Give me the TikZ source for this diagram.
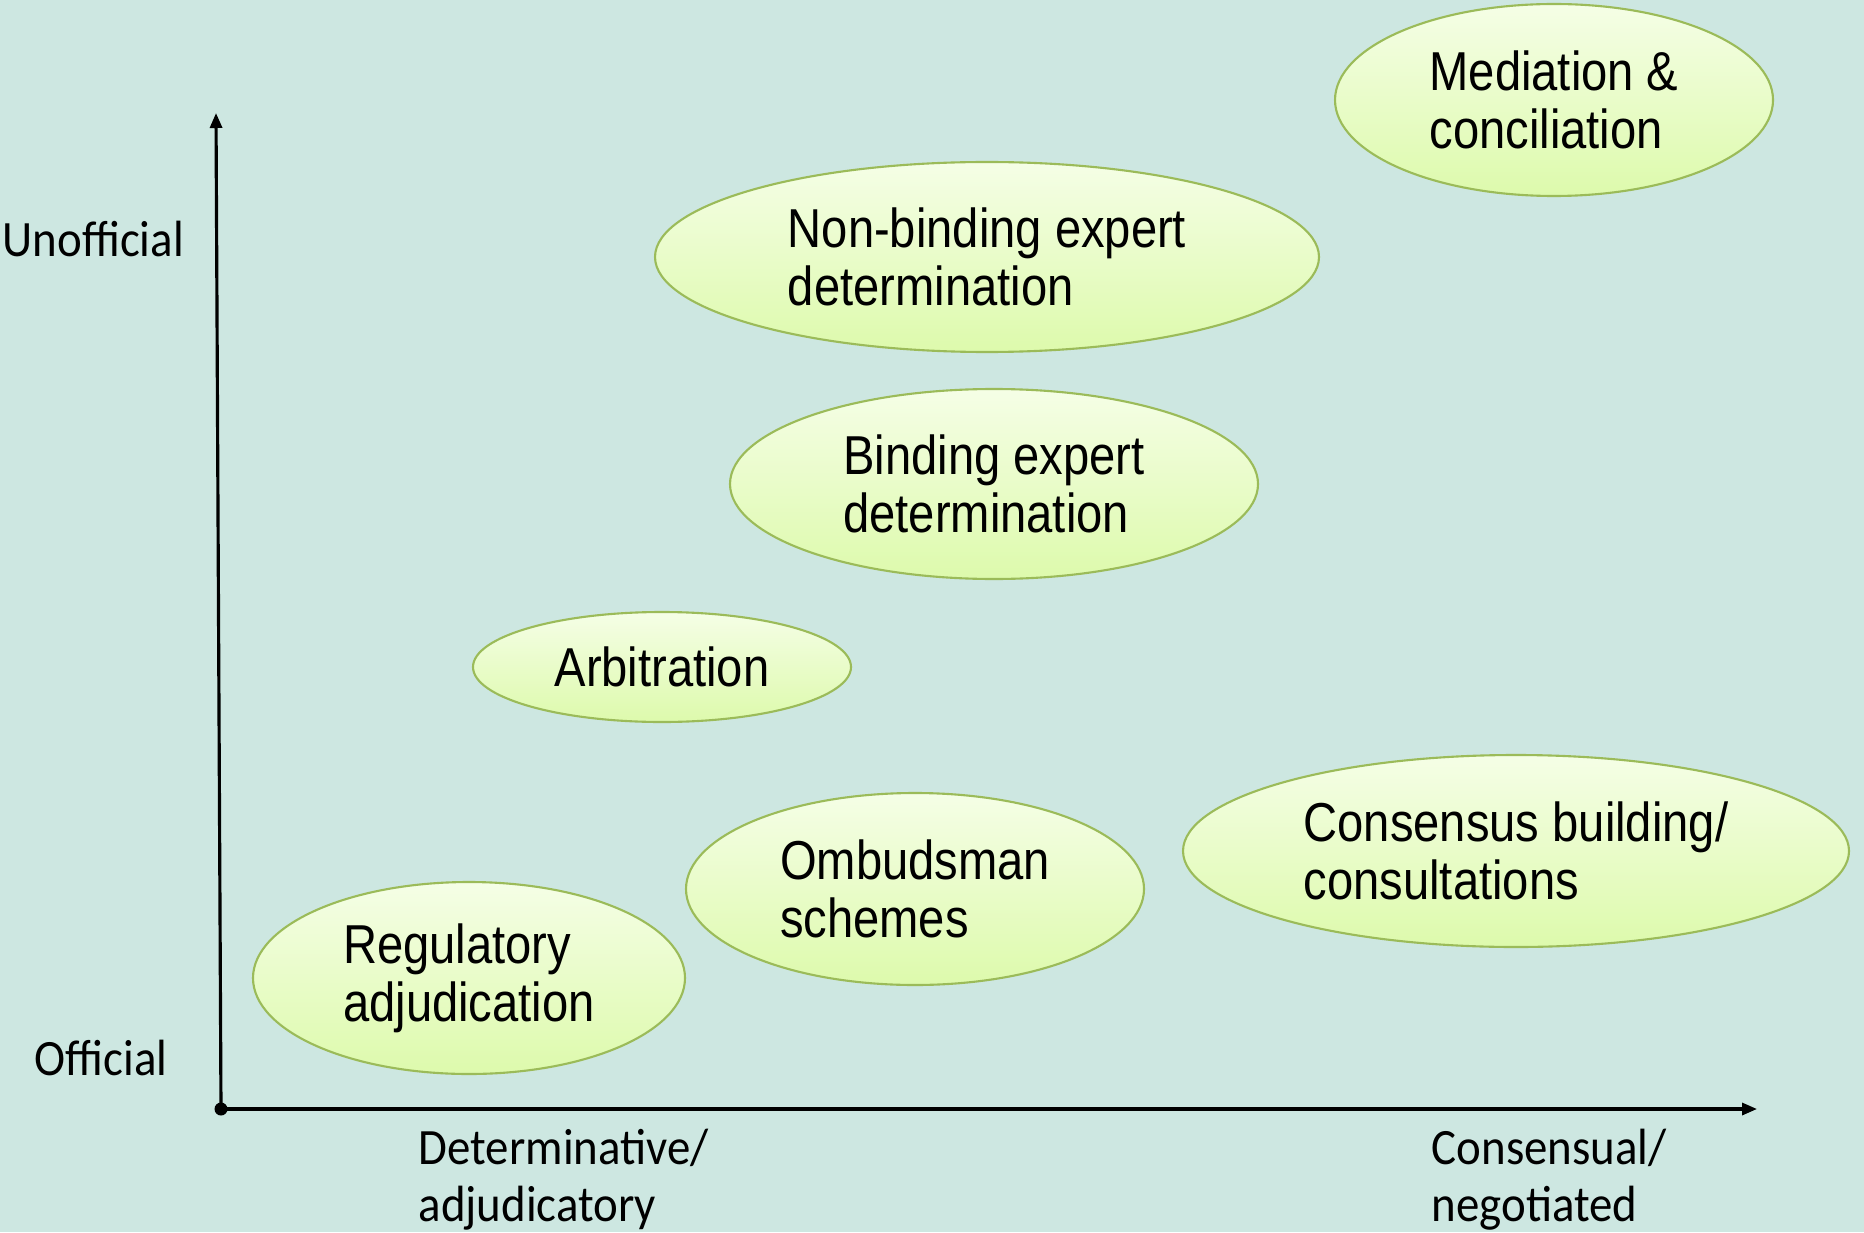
\documentclass[tikz,border=0pt]{standalone}
\usepackage{fontspec}
\usepackage{tikz}
\usetikzlibrary{shapes.geometric,arrows.meta}
\newfontfamily\ellfont[FakeStretch=0.86]{Liberation Sans}
\newfontfamily\axfont[FakeStretch=0.92]{Carlito}
\definecolor{bgteal}{RGB}{205,231,225}
\definecolor{elltop}{RGB}{245,254,230}
\definecolor{ellbot}{RGB}{221,250,172}
\definecolor{ellrim}{RGB}{155,187,89}

\begin{document}
\begin{tikzpicture}[x=0.1mm,y=-0.1mm,
  method/.style={ellipse,draw=ellrim,line width=0.6pt,top color=elltop,bottom color=ellbot,
    inner sep=0pt,align=left,font=\ellfont\fontsize{15.6pt}{16.5pt}\selectfont},
  axislabel/.style={inner sep=0pt,align=left,font=\axfont\fontsize{14.5pt}{16.2pt}\selectfont},
  axis/.style={line width=0.9pt,-{Triangle[length=1.5mm,width=1.2mm]}}]
  \fill[bgteal] (0,0) rectangle (1864,1232);

  % axes
  \coordinate (origin) at (221,1109);
  \coordinate (ytop) at (216,113);
  \coordinate (xend) at (1757,1109);
  \draw[axis] (origin) -- (ytop);
  \draw[axis] (origin) -- (xend);
  \fill (origin) circle (0.65mm);

  \node[axislabel,anchor=west] (unoff) at (2,239) {Unofficial};
  \node[axislabel,anchor=west] (off) at (34,1058) {Official};
  \node[axislabel,anchor=north west] (determ) at (418,1128) {Determinative/\\adjudicatory};
  \node[axislabel,anchor=north west] (consens) at (1431,1128) {Consensual/\\negotiated};

  % methods
  \node[method,minimum width=43.8mm,minimum height=19.2mm] (mediation) at (1554,100) {Mediation \&\\conciliation};
  \node[method,minimum width=66.4mm,minimum height=19mm] (nonbinding) at (987,257) {Non-binding expert\\determination};
  \node[method,minimum width=52.8mm,minimum height=19mm] (binding) at (994,484) {Binding expert\\determination};
  \node[method,minimum width=37.8mm,minimum height=11mm] (arbitration) at (662,667) {Arbitration};
  \node[method,minimum width=45.8mm,minimum height=19.2mm] (ombudsman) at (915,889) {Ombudsman\\schemes};
  \node[method,minimum width=66.6mm,minimum height=19.2mm] (consensus) at (1516,851) {Consensus building/\\consultations};
  \node[method,minimum width=43.2mm,minimum height=19.2mm] (regulatory) at (469,978) {Regulatory\\adjudication};
\end{tikzpicture}
\end{document}
